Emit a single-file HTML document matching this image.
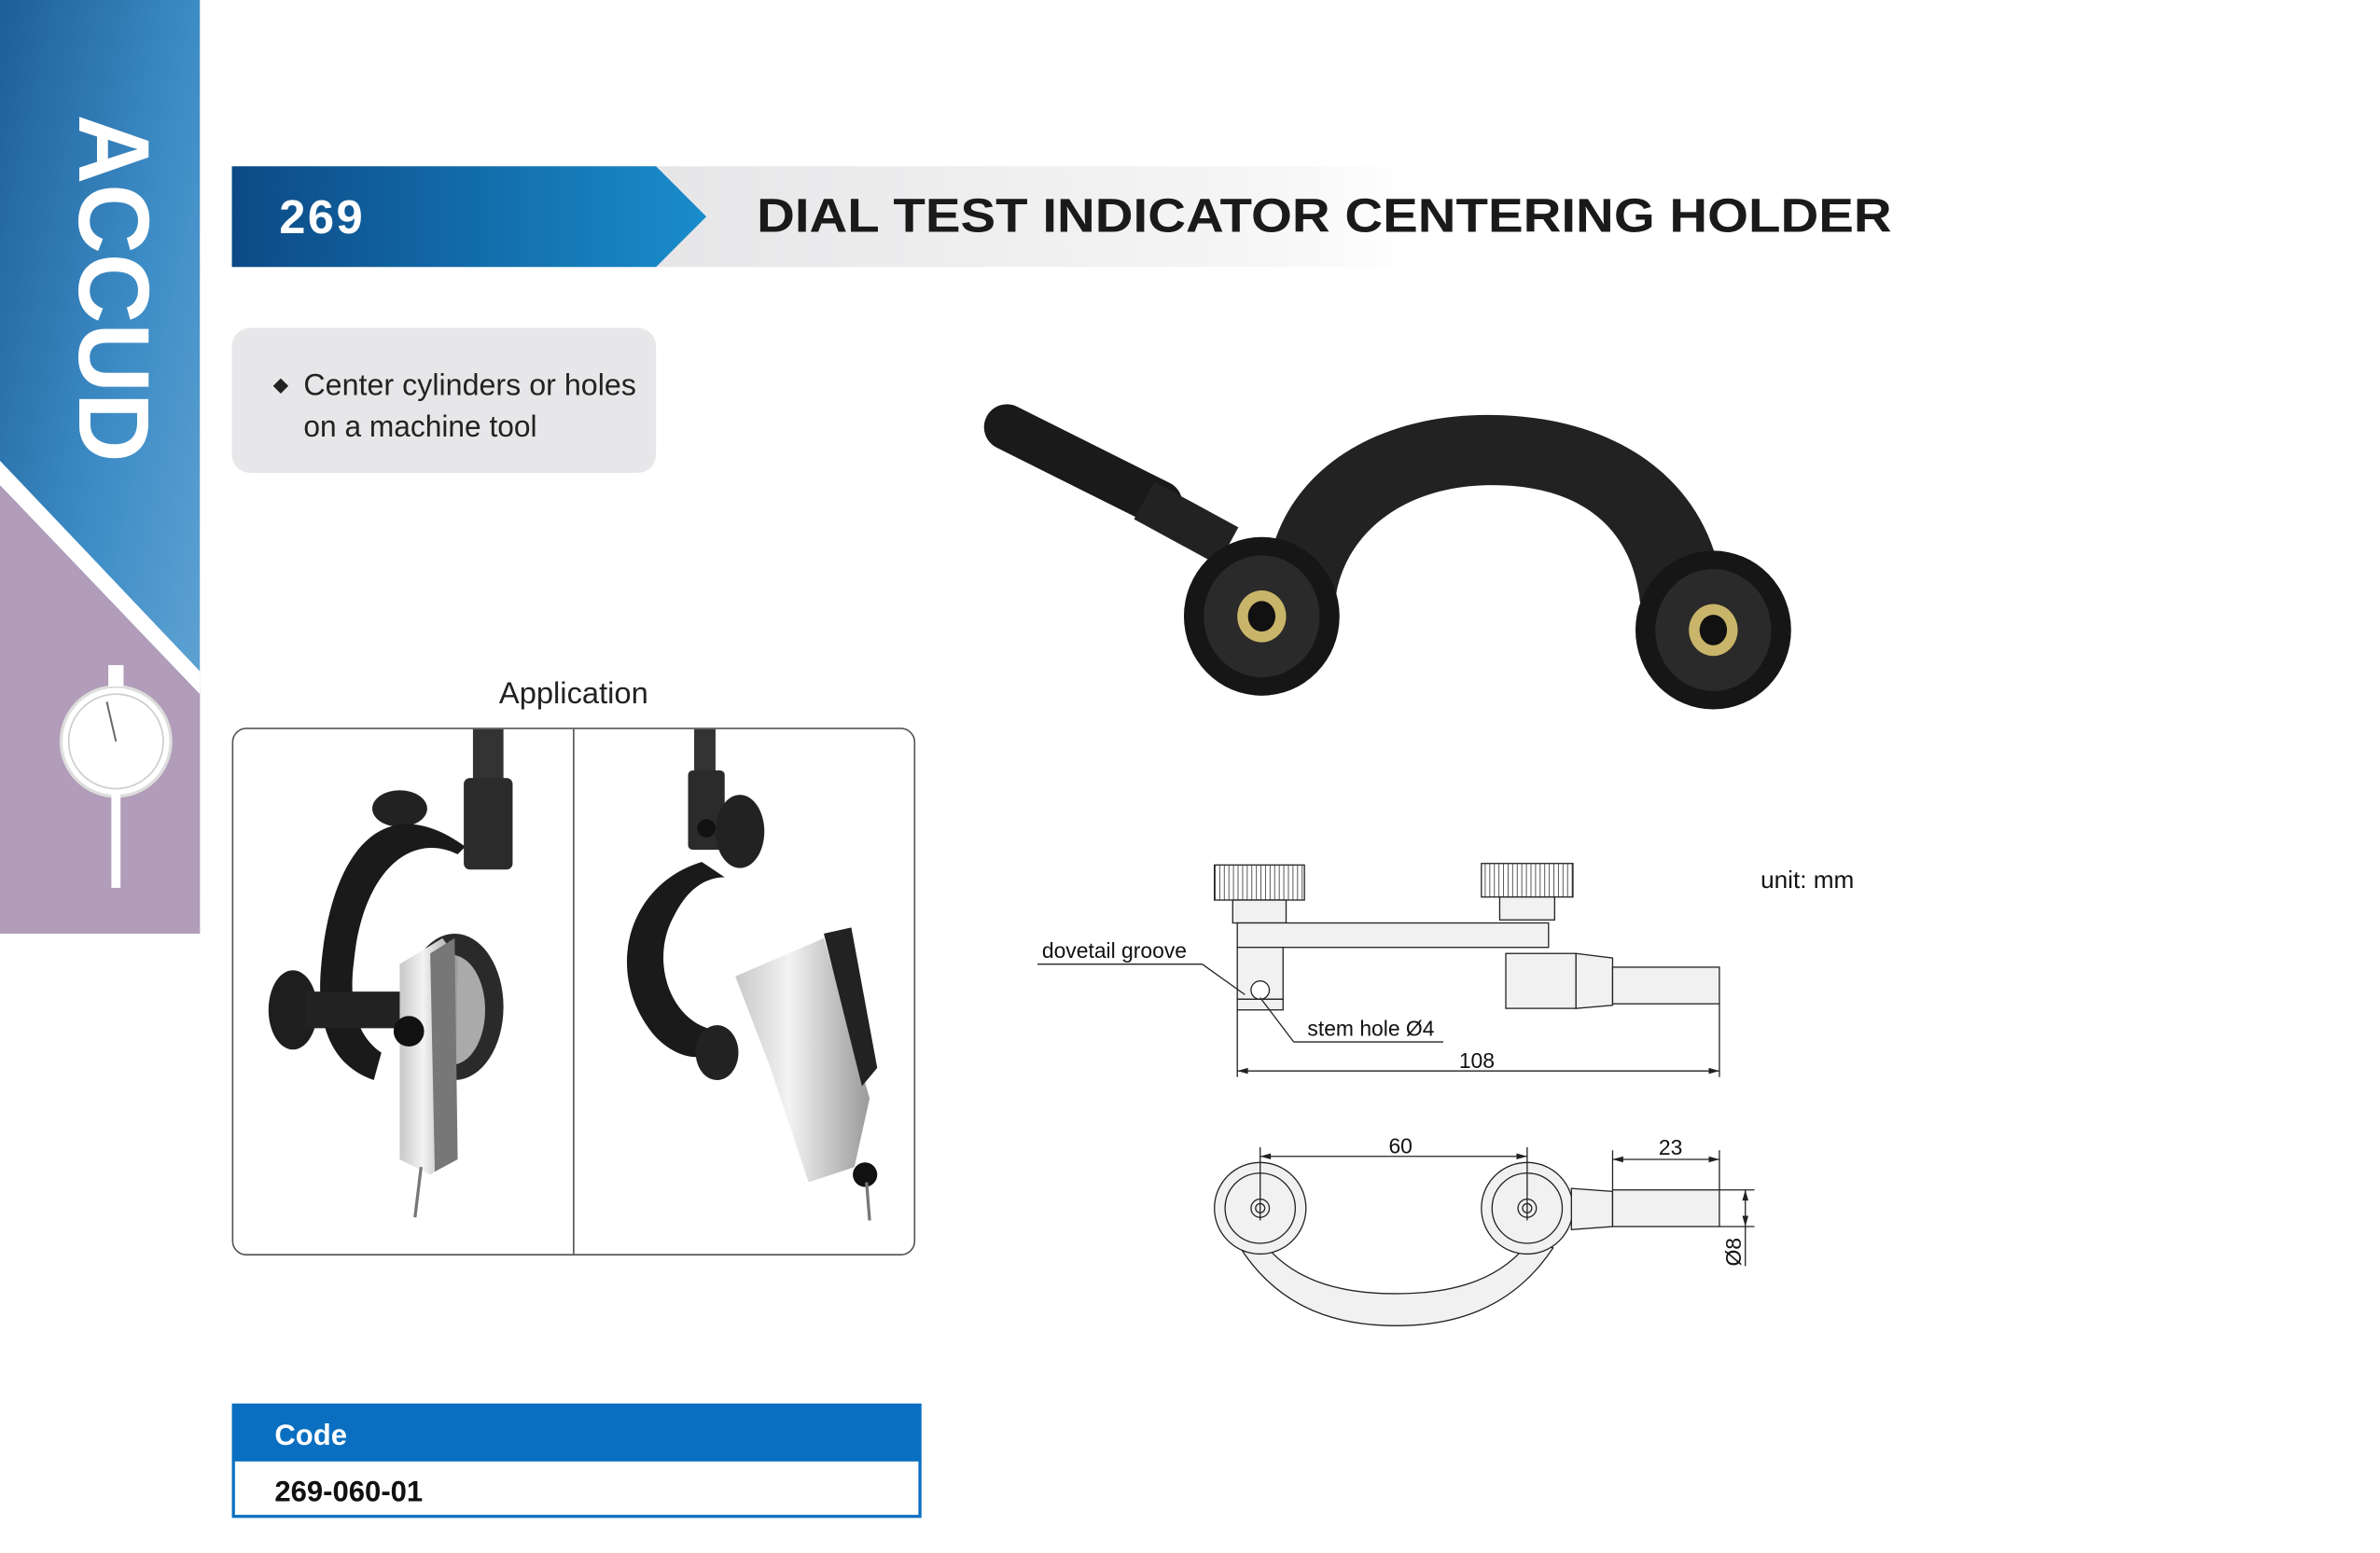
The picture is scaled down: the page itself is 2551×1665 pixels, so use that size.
<!DOCTYPE html>
<html><head><meta charset="utf-8"><style>
html,body{margin:0;padding:0;background:#fff;}
svg{display:block;}
text{font-family:"Liberation Sans",sans-serif;}
</style></head><body>
<svg width="2551" height="1665" viewBox="0 0 1560 1018" preserveAspectRatio="none" xmlns="http://www.w3.org/2000/svg">
<defs>
<linearGradient id="side" x1="0" y1="0" x2="1" y2="1">
<stop offset="0" stop-color="#1d5f98"/><stop offset="0.5" stop-color="#3d8cc6"/><stop offset="1" stop-color="#6aa9d6"/></linearGradient>
<linearGradient id="ban" x1="0" y1="0" x2="1" y2="0">
<stop offset="0" stop-color="#0c4a86"/><stop offset="1" stop-color="#1a8ccc"/></linearGradient>
<linearGradient id="grey" x1="0" y1="0" x2="1" y2="0">
<stop offset="0" stop-color="#e6e6e8"/><stop offset="0.8" stop-color="#f6f6f6"/><stop offset="1" stop-color="#ffffff"/></linearGradient>
<linearGradient id="metal" x1="0" y1="0" x2="1" y2="0">
<stop offset="0" stop-color="#c8c8c8"/><stop offset="0.4" stop-color="#f3f3f3"/><stop offset="1" stop-color="#9a9a9a"/></linearGradient>
<pattern id="knurl" width="3" height="10" patternUnits="userSpaceOnUse"><rect width="3" height="10" fill="#fff"/><line x1="1.5" y1="0" x2="1.5" y2="10" stroke="#333" stroke-width="0.5"/></pattern>
</defs>

<!-- sidebar -->
<rect x="0" y="0" width="131" height="612" fill="url(#side)"/>
<polygon points="0,318 131,455 131,612 0,612" fill="#b19cb9"/>
<polygon points="0,302 131,440 131,455 0,318" fill="#fff"/>
<text transform="translate(52,75) rotate(90)" font-size="66" font-weight="bold" fill="#fff" textLength="228" lengthAdjust="spacingAndGlyphs">ACCUD</text>
<circle cx="76" cy="486" r="36" fill="#fff" stroke="#ddd" stroke-width="2"/>
<circle cx="76" cy="486" r="31" fill="none" stroke="#ccc" stroke-width="1"/>
<line x1="76" y1="486" x2="70" y2="460" stroke="#666" stroke-width="1.2"/>
<rect x="71" y="436" width="10" height="14" fill="#fff"/>
<rect x="73" y="520" width="6" height="62" fill="#fff"/>

<!-- banner -->
<rect x="430" y="109" width="500" height="66" fill="url(#grey)"/>
<polygon points="152,109 430,109 463,142 430,175 152,175" fill="url(#ban)"/>
<text x="183" y="153" font-size="31" font-weight="bold" fill="#fff" letter-spacing="1.5">269</text>
<text x="496" y="152" font-size="31" font-weight="bold" fill="#1a1a1a" textLength="744" lengthAdjust="spacingAndGlyphs">DIAL TEST INDICATOR CENTERING HOLDER</text>

<!-- feature box -->
<rect x="152" y="215" width="278" height="95" rx="12" fill="#e7e7e9"/>
<polygon points="184,248 189,253 184,258 179,253" fill="#222"/>
<text x="199" y="259" font-size="20" fill="#222" textLength="218" lengthAdjust="spacingAndGlyphs">Center cylinders or holes</text>
<text x="199" y="286" font-size="20" fill="#222" textLength="153" lengthAdjust="spacingAndGlyphs">on a machine tool</text>

<!-- application -->
<text x="376" y="461" font-size="20" fill="#222" text-anchor="middle">Application</text>
<rect x="152.5" y="477.5" width="447" height="345" rx="9" fill="#fff" stroke="#555" stroke-width="1"/>
<line x1="376" y1="478" x2="376" y2="822" stroke="#555" stroke-width="1"/>
<!-- left photo -->
<rect x="310" y="478" width="20" height="40" fill="#333"/>
<rect x="304" y="510" width="32" height="60" rx="4" fill="#2b2b2b"/>
<ellipse cx="262" cy="530" rx="18" ry="12" fill="#222"/>
<path d="M305,555 C250,515 215,560 210,640 C208,680 222,700 245,708 L250,690 C235,680 228,660 232,630 C238,570 270,545 300,560 Z" fill="#1a1a1a"/>
<ellipse cx="298" cy="660" rx="32" ry="48" fill="#2a2a2a"/>
<ellipse cx="296" cy="662" rx="22" ry="36" fill="#aaa"/>
<ellipse cx="192" cy="662" rx="16" ry="26" fill="#1e1e1e"/>
<rect x="200" y="650" width="70" height="24" fill="#222"/>
<polygon points="262,632 290,615 300,628 298,760 282,770 262,760" fill="url(#metal)"/>
<polygon points="282,625 298,615 300,760 285,768" fill="#777"/>
<circle cx="268" cy="676" r="10" fill="#111"/>
<line x1="276" y1="765" x2="272" y2="798" stroke="#777" stroke-width="2"/>
<!-- right photo -->
<rect x="455" y="478" width="14" height="40" fill="#333"/>
<rect x="451" y="505" width="24" height="52" rx="3" fill="#2b2b2b"/>
<ellipse cx="485" cy="545" rx="16" ry="24" fill="#222"/>
<circle cx="463" cy="543" r="6" fill="#111"/>
<path d="M460,565 C410,580 395,640 430,680 C445,695 460,695 470,690 L468,675 C440,670 425,630 442,600 C452,580 465,575 475,575 Z" fill="#1a1a1a"/>
<ellipse cx="470" cy="690" rx="14" ry="18" fill="#222"/>
<polygon points="482,640 540,615 570,720 560,765 530,775 505,700" fill="url(#metal)"/>
<polygon points="540,612 558,608 575,700 565,712" fill="#222"/>
<circle cx="567" cy="770" r="8" fill="#111"/>
<line x1="568" y1="775" x2="570" y2="800" stroke="#777" stroke-width="2"/>

<!-- product photo -->
<g>
<line x1="660" y1="280" x2="760" y2="330" stroke="#1a1a1a" stroke-width="30" stroke-linecap="round"/>
<line x1="750" y1="328" x2="805" y2="358" stroke="#222" stroke-width="28"/>
<path d="M830,390 C830,320 890,272 975,272 C1065,272 1125,320 1130,395 L1075,395 C1070,345 1035,318 978,318 C920,318 880,350 875,395 Z" fill="#222"/>
<ellipse cx="827" cy="404" rx="51" ry="52" fill="#161616"/>
<ellipse cx="827" cy="404" rx="38" ry="40" fill="#2a2a2a"/>
<ellipse cx="827" cy="404" rx="16" ry="17" fill="#c9b56a"/>
<ellipse cx="827" cy="404" rx="9" ry="10" fill="#111"/>
<ellipse cx="1123" cy="413" rx="51" ry="52" fill="#161616"/>
<ellipse cx="1123" cy="413" rx="38" ry="40" fill="#2a2a2a"/>
<ellipse cx="1123" cy="413" rx="16" ry="17" fill="#c9b56a"/>
<ellipse cx="1123" cy="413" rx="9" ry="10" fill="#111"/>
</g>

<!-- technical drawing top view -->
<g stroke="#222" stroke-width="0.8" fill="#f1f1f1">
<rect x="796" y="567" width="59" height="23" fill="url(#knurl)"/>
<rect x="808" y="590" width="35" height="15"/>
<rect x="971" y="566" width="60" height="22" fill="url(#knurl)"/>
<rect x="983" y="588" width="36" height="15"/>
<rect x="811" y="605" width="204" height="16"/>
<rect x="811" y="621" width="30" height="34"/>
<rect x="811" y="655" width="30" height="7"/>
<circle cx="826" cy="649" r="6" fill="#fff"/>
<rect x="987" y="625" width="46" height="36"/>
<polygon points="1033,625 1057,628 1057,659 1033,661"/>
<rect x="1057" y="634" width="70" height="24"/>
</g>
<g stroke="#222" stroke-width="0.8" fill="none">
<line x1="811" y1="662" x2="811" y2="706"/>
<line x1="1127" y1="658" x2="1127" y2="706"/>
<line x1="811" y1="702" x2="1127" y2="702"/>
<line x1="680" y1="632" x2="788" y2="632"/>
<line x1="788" y1="632" x2="816" y2="652"/>
<line x1="946" y1="683" x2="848" y2="683"/>
<line x1="848" y1="683" x2="826" y2="654"/>
</g>
<polygon points="811,702 818,700 818,704" fill="#222"/>
<polygon points="1127,702 1120,700 1120,704" fill="#222"/>
<text x="683" y="628" font-size="14" fill="#111">dovetail groove</text>
<text x="857" y="679" font-size="14" fill="#111">stem hole Ø4</text>
<text x="968" y="700" font-size="14" fill="#111" text-anchor="middle">108</text>
<text x="1154" y="582" font-size="16" fill="#111">unit: mm</text>

<!-- bottom view -->
<g stroke="#222" stroke-width="0.8" fill="#f1f1f1">
<path d="M813,818 C840,860 880,869 915,869 C950,869 990,860 1018,818 L1004,812 C985,838 955,848 915,848 C875,848 845,838 826,812 Z"/>
<circle cx="826" cy="792" r="30"/><circle cx="826" cy="792" r="23"/><circle cx="826" cy="792" r="6"/><circle cx="826" cy="792" r="3"/>
<circle cx="1001" cy="792" r="30"/><circle cx="1001" cy="792" r="23"/><circle cx="1001" cy="792" r="6"/><circle cx="1001" cy="792" r="3"/>
<polygon points="1030,779 1057,781 1057,804 1030,806"/>
<rect x="1057" y="780" width="70" height="24"/>
</g>
<g stroke="#222" stroke-width="0.8" fill="none">
<line x1="826" y1="752" x2="826" y2="800"/><line x1="1001" y1="752" x2="1001" y2="800"/>
<line x1="826" y1="758" x2="1001" y2="758"/>
<line x1="1057" y1="754" x2="1057" y2="780"/><line x1="1127" y1="754" x2="1127" y2="780"/>
<line x1="1057" y1="760" x2="1127" y2="760"/>
<line x1="1127" y1="780" x2="1150" y2="780"/><line x1="1127" y1="804" x2="1150" y2="804"/>
<line x1="1144" y1="780" x2="1144" y2="830"/>
</g>
<polygon points="826,758 833,756 833,760" fill="#222"/>
<polygon points="1001,758 994,756 994,760" fill="#222"/>
<polygon points="1057,760 1064,758 1064,762" fill="#222"/>
<polygon points="1127,760 1120,758 1120,762" fill="#222"/>
<polygon points="1144,780 1142,787 1146,787" fill="#222"/>
<polygon points="1144,804 1142,797 1146,797" fill="#222"/>
<text x="918" y="756" font-size="14" fill="#111" text-anchor="middle">60</text>
<text x="1095" y="757" font-size="14" fill="#111" text-anchor="middle">23</text>
<text transform="translate(1141,830) rotate(-90)" font-size="14" fill="#111">Ø8</text>

<!-- code table -->
<rect x="152" y="920" width="452" height="37" fill="#0a6fc0"/>
<rect x="153" y="957" width="450" height="37" fill="#fff" stroke="#0a6fc0" stroke-width="2"/>
<text x="180" y="947" font-size="19" font-weight="bold" fill="#fff">Code</text>
<text x="180" y="984" font-size="19" font-weight="bold" fill="#111">269-060-01</text>
</svg>
</body></html>
